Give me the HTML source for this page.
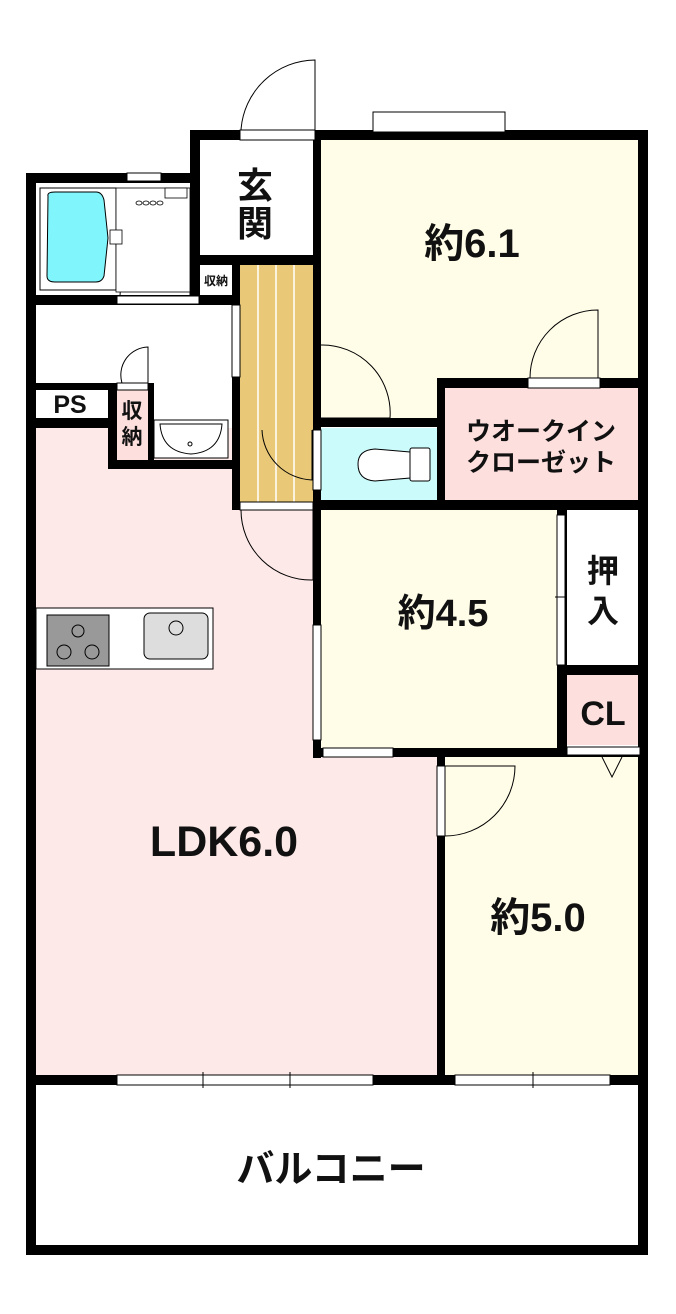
<!DOCTYPE html>
<html><head><meta charset="utf-8"><style>
html,body{margin:0;padding:0;background:#fff;}
svg{display:block;}
text{font-family:"Liberation Sans","Noto Sans CJK JP",sans-serif;font-weight:bold;fill:#111;}
</style></head><body>
<svg width="676" height="1314" viewBox="0 0 676 1314" xmlns="http://www.w3.org/2000/svg">
<!-- room fills -->
<rect x="320" y="140" width="320" height="245" fill="#fffde8"/>
<rect x="320" y="380" width="120" height="40" fill="#fffde8"/>
<rect x="36" y="428" width="278" height="80" fill="#fde9e8"/>
<rect x="36" y="505" width="280" height="575" fill="#fde9e8"/>
<rect x="300" y="752" width="140" height="328" fill="#fde9e8"/>
<rect x="320" y="510" width="240" height="240" fill="#fffde8"/>
<rect x="445" y="757" width="195" height="320" fill="#fffde8"/>
<rect x="320" y="428" width="117" height="72" fill="#ccfbfc"/>
<rect x="445" y="388" width="195" height="112" fill="#fde0de"/>
<rect x="567" y="675" width="73" height="70" fill="#fde0de"/>
<rect x="117" y="388" width="31" height="72" fill="#fde0de"/>
<rect x="240" y="262" width="73" height="243" fill="#e9c877"/>
<g stroke="#fff" stroke-width="1.5"><line x1="258" y1="262" x2="258" y2="505"/><line x1="276" y1="262" x2="276" y2="505"/><line x1="294" y1="262" x2="294" y2="505"/></g>

<!-- walls -->
<g fill="#000">
<rect x="26" y="173" width="10" height="1082"/>
<rect x="638" y="133" width="10" height="1122"/>
<rect x="26" y="1245" width="622" height="10"/>
<rect x="26" y="1075" width="622" height="10"/>
<rect x="26" y="173" width="174" height="10"/>
<rect x="190" y="130" width="458" height="10"/>
<rect x="190" y="130" width="10" height="175"/>
<rect x="36" y="295" width="200" height="10"/>
<rect x="200" y="255" width="120" height="10"/>
<rect x="232" y="255" width="8" height="255"/>
<rect x="313" y="133" width="8" height="625"/>
<rect x="26" y="418" width="90" height="10"/>
<rect x="36" y="383" width="90" height="7"/>
<rect x="108" y="383" width="9" height="85"/>
<rect x="108" y="460" width="132" height="9"/>
<rect x="148" y="383" width="6" height="80"/>
<rect x="313" y="418" width="130" height="9"/>
<rect x="437" y="378" width="211" height="10"/>
<rect x="437" y="378" width="8" height="130"/>
<rect x="313" y="500" width="335" height="10"/>
<rect x="557" y="510" width="10" height="247"/>
<rect x="567" y="665" width="75" height="10"/>
<rect x="313" y="748" width="335" height="9"/>
<rect x="437" y="757" width="8" height="323"/>
</g>

<!-- windows / openings -->
<g fill="#fff" stroke="#000" stroke-width="1">
<rect x="240" y="130" width="75" height="10"/>
<rect x="373" y="112" width="132" height="20"/>
<rect x="127" y="173" width="34" height="8"/>
<rect x="117" y="296" width="82" height="8"/>
<rect x="232" y="305" width="8" height="72"/>
<rect x="117" y="383" width="31" height="7"/>
<rect x="528" y="378" width="72" height="10"/>
<rect x="313" y="430" width="8" height="60"/>
<rect x="240" y="502" width="73" height="8"/>
<rect x="313" y="625" width="8" height="115"/>
<rect x="323" y="748" width="70" height="9"/>
<rect x="557" y="515" width="8" height="150"/>
<rect x="567" y="747" width="73" height="8"/>
<rect x="437" y="766" width="8" height="70"/>
<rect x="117" y="1075" width="256" height="10"/>
<rect x="455" y="1075" width="155" height="10"/>
</g>
<g stroke="#000" stroke-width="1" fill="none">
<line x1="203" y1="1072" x2="203" y2="1088"/><line x1="290" y1="1072" x2="290" y2="1088"/><line x1="533" y1="1072" x2="533" y2="1088"/>
<line x1="555" y1="597" x2="567" y2="597"/>
<path d="M241 130 A75 75 0 0 1 315 60 L315 130"/>
<path d="M120 296 A72 72 0 0 1 190 225 L190 296"/>
<path d="M122 383 A28 28 0 0 1 148 347 L148 383"/>
<path d="M530 378 A68 68 0 0 1 598 310 L598 378"/>
<path d="M321 345 A68 68 0 0 1 390 418 L321 418"/>
<path d="M262 430 A52 52 0 0 0 312 480 L312 430"/>
<path d="M241 510 A70 70 0 0 0 313 580 L313 510"/>
<path d="M445 836 A70 70 0 0 0 515 766 L445 766"/>
<path d="M602 757 L612 777 L622 757"/>
</g>

<!-- bath -->
<rect x="40" y="188" width="76" height="102" fill="#fff" stroke="#000"/>
<path d="M48 196 Q47 192 55 192 L96 192 Q102 192 104 200 L108 238 L104 276 Q102 282 96 282 L55 282 Q47 282 47 276 Z" fill="#80f5fb" stroke="#000"/>
<rect x="116" y="188" width="74" height="104" fill="#fff" stroke="#000" stroke-width="0.8"/>
<rect x="110" y="230" width="12" height="14" fill="#fff" stroke="#000" stroke-width="0.8"/>
<rect x="165" y="188" width="22" height="10" fill="#fff" stroke="#000" stroke-width="0.8"/>
<g fill="#fff" stroke="#000" stroke-width="0.8"><ellipse cx="139" cy="203" rx="3" ry="2"/><ellipse cx="146" cy="203" rx="3" ry="2"/><ellipse cx="153" cy="203" rx="3" ry="2"/><ellipse cx="160" cy="203" rx="3" ry="2"/></g>
<!-- wash sink -->
<rect x="154" y="420" width="74" height="38" fill="#fff" stroke="#000"/>
<path d="M160 424 L222 424 Q220 452 191 454 Q162 452 160 424 Z" fill="#fff" stroke="#000"/>
<circle cx="190" cy="444" r="2" fill="none" stroke="#000"/>
<!-- toilet -->
<rect x="410" y="448" width="20" height="33" rx="2" fill="#fff" stroke="#000"/>
<path d="M410 452 L375 449 Q358 450 358 464 Q358 480 375 481 L410 478 Z" fill="#fff" stroke="#000"/>
<!-- kitchen -->
<rect x="36" y="608" width="177" height="61" fill="#fff" stroke="#000"/>
<rect x="47" y="615" width="62" height="51" fill="#999" stroke="#000"/>
<g fill="none" stroke="#000"><circle cx="78" cy="631" r="6"/><circle cx="64" cy="652" r="7"/><circle cx="92" cy="652" r="7"/></g>
<rect x="144" y="613" width="64" height="46" rx="6" fill="#ddd" stroke="#000"/>
<circle cx="176" cy="628" r="7" fill="none" stroke="#000"/>

<!-- labels -->
<text x="255" y="198" font-size="36" text-anchor="middle">玄</text>
<text x="255" y="236" font-size="36" text-anchor="middle">関</text>
<text x="216" y="285" font-size="12" text-anchor="middle">収納</text>
<text x="472" y="257" font-size="40" text-anchor="middle">約6.1</text>
<text x="70" y="413" font-size="25" text-anchor="middle">PS</text>
<text x="132" y="418" font-size="21" text-anchor="middle">収</text>
<text x="132" y="444" font-size="21" text-anchor="middle">納</text>
<text x="541" y="440" font-size="25" text-anchor="middle">ウオークイン</text>
<text x="541" y="471" font-size="25" text-anchor="middle">クローゼット</text>
<text x="443" y="626" font-size="38" text-anchor="middle">約4.5</text>
<text x="603" y="582" font-size="32" text-anchor="middle">押</text>
<text x="603" y="622" font-size="32" text-anchor="middle">入</text>
<text x="603" y="725" font-size="34" text-anchor="middle">CL</text>
<text x="224" y="856" font-size="43" text-anchor="middle">LDK6.0</text>
<text x="538" y="931" font-size="40" text-anchor="middle">約5.0</text>
<text x="331" y="1182" font-size="38" text-anchor="middle">バルコニー</text>
</svg>
</body></html>
